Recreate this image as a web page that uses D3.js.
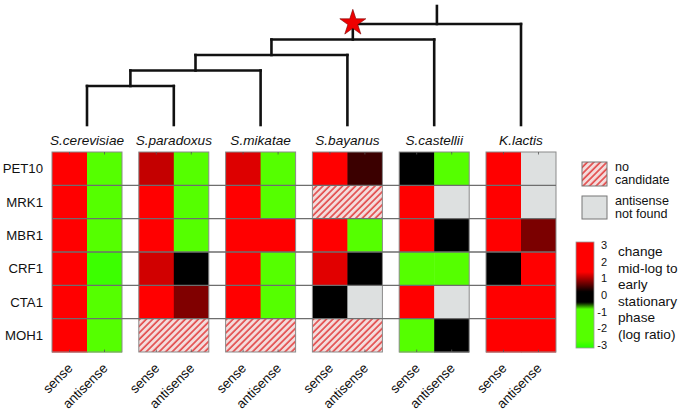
<!DOCTYPE html>
<html>
<head>
<meta charset="utf-8">
<script src="https://cdn.jsdelivr.net/npm/d3@7"></script>
<style>
  html, body { margin: 0; padding: 0; background: #fff; }
  svg { display: block; font-family: "Liberation Sans", Arial, Helvetica, sans-serif; }
</style>
</head>
<body>
<svg id="chart" width="685" height="416"></svg>
<script>
// ---------------- data ----------------
const species = ["S.cerevisiae", "S.paradoxus", "S.mikatae", "S.bayanus", "S.castellii", "K.lactis"];
const genes = ["PET10", "MRK1", "MBR1", "CRF1", "CTA1", "MOH1"];
const strands = ["sense", "antisense"];
// log ratio values; null = no candidate, "nf" = antisense not found
// one row per species, one entry per gene (PET10..MOH1)
const senseValues = [
  [2.5, 2.5, 2.5, 2.5, 2.5, 2.5],
  [1.04, 2.5, 2.5, 1.1, 2.5, null],
  [1.15, 2.5, 2.5, 2.5, 2.5, null],
  [2.5, null, 2.5, 1.17, 0, null],
  [0, 2.5, 2.5, -1.8, 2.5, -1.8],
  [2.5, 2.5, 2.5, 0, 2.5, 2.5]
];
const antisenseValues = [
  [-1.8, -1.8, -1.8, -2.8, -1.8, -1.8],
  [-1.8, -1.8, -1.8, 0, 0.74, null],
  [-1.8, -1.8, 2.5, -1.8, -1.8, null],
  [0.44, null, -1.8, 0, "nf", null],
  [-1.8, "nf", 0, -1.8, "nf", 0],
  ["nf", "nf", 0.72, 2.5, 2.5, 2.5]
];
// phylogeny: (((((cer,par),mik),bay),cas),lac)
const phylogeny = [[[[["S.cerevisiae", "S.paradoxus"], "S.mikatae"], "S.bayanus"], "S.castellii"], "K.lactis"];
const colorTicks = [3, 2, 1, 0, -1, -2, -3];
const legendText = ["change", "mid-log to", "early", "stationary", "phase", "(log ratio)"];

// ---------------- setup ----------------
const svg = d3.select("#chart");
const defs = svg.append("defs");

const xSpecies = d3.scaleBand().domain(species).range([52, 556]).paddingInner(0.1935).paddingOuter(0);
const xStrand = d3.scaleBand().domain(strands).range([0, xSpecies.bandwidth()]);
const yGene = d3.scaleBand().domain(genes).range([152, 352]);

const colorScale = d3.scaleLinear()
  .domain([-3, -2.6, -0.8, -0.42, 0.18, 1.3, 3])
  .range(["#22ff00", "#55ff00", "#55ff00", "#000000", "#000000", "#ff0000", "#ff0000"])
  .clamp(true);

// hatch pattern
const pat = defs.append("pattern")
  .attr("id", "hatch").attr("patternUnits", "userSpaceOnUse")
  .attr("width", 4.6).attr("height", 4.6)
  .attr("patternTransform", "rotate(45)");
pat.append("rect").attr("width", 4.6).attr("height", 4.6).attr("fill", "#f3dcdc");
pat.append("line").attr("x1", 1).attr("x2", 1).attr("y1", 0).attr("y2", 4.6)
  .attr("stroke", "#e23a3a").attr("stroke-width", 1.5);

const NA_GRAY = "#dde0e0";

// ---------------- heatmap ----------------
const blocks = svg.append("g").selectAll("g.block")
  .data(species).join("g").attr("class", "block")
  .attr("transform", d => `translate(${xSpecies(d)},0)`);

blocks.each(function(sp, si) {
  const g = d3.select(this);
  genes.forEach((gene, gi) => {
    const sv = senseValues[si][gi];
    const av = antisenseValues[si][gi];
    if (sv === null) {
      g.append("rect")
        .attr("x", 0).attr("y", yGene(gene))
        .attr("width", xSpecies.bandwidth()).attr("height", yGene.bandwidth())
        .attr("fill", "url(#hatch)");
      return;
    }
    [sv, av].forEach((v, k) => {
      g.append("rect")
        .attr("x", xStrand(strands[k])).attr("y", yGene(gene))
        .attr("width", xStrand.bandwidth() + (k === 0 ? 0.5 : 0)).attr("height", yGene.bandwidth() + 0.5)
        .attr("fill", v === "nf" ? NA_GRAY : colorScale(v));
    });
  });
});

// horizontal row separators
svg.append("g").selectAll("line")
  .data(genes.slice(1)).join("line")
  .attr("x1", xSpecies.range()[0]).attr("x2", xSpecies.range()[1])
  .attr("y1", d => yGene(d)).attr("y2", d => yGene(d))
  .attr("stroke", "#6e6e6e").attr("stroke-width", 1.4);

// block outlines & small ticks
blocks.append("rect")
  .attr("x", 0).attr("y", yGene.range()[0])
  .attr("width", xSpecies.bandwidth()).attr("height", yGene.range()[1] - yGene.range()[0])
  .attr("fill", "none").attr("stroke", "#8a8a8a").attr("stroke-width", 1);
blocks.each(function() {
  const g = d3.select(this);
  strands.forEach(s => {
    const cx = xStrand(s) + xStrand.bandwidth() / 2;
    g.append("line").attr("x1", cx).attr("x2", cx)
      .attr("y1", yGene.range()[0]).attr("y2", yGene.range()[0] + 2.5)
      .attr("stroke", "#555").attr("stroke-width", 0.8);
    g.append("line").attr("x1", cx).attr("x2", cx)
      .attr("y1", yGene.range()[1]).attr("y2", yGene.range()[1] - 2.5)
      .attr("stroke", "#555").attr("stroke-width", 0.8);
  });
});

// row labels
svg.append("g").selectAll("text")
  .data(genes).join("text")
  .attr("x", 43).attr("y", d => yGene(d) + yGene.bandwidth() / 2)
  .attr("text-anchor", "end").attr("dominant-baseline", "central")
  .attr("font-size", 13.2).attr("fill", "#111")
  .text(d => d);

// species labels
svg.append("g").selectAll("text")
  .data(species).join("text")
  .attr("x", d => xSpecies(d) + xSpecies.bandwidth() / 2).attr("y", 145)
  .attr("text-anchor", "middle").attr("font-style", "italic")
  .attr("font-size", 13.6).attr("fill", "#111")
  .text(d => d);

// bottom strand labels
const bottom = [];
species.forEach(sp => strands.forEach(s => bottom.push({ sp, s })));
svg.append("g").selectAll("text")
  .data(bottom).join("text")
  .attr("transform", d => {
    const x = xSpecies(d.sp) + xStrand(d.s) + xStrand.bandwidth() / 2 + 4;
    return `translate(${x},369) rotate(-45)`;
  })
  .attr("text-anchor", "end").attr("font-size", 13.3).attr("fill", "#111")
  .text(d => d.s);

// ---------------- tree ----------------
const toNode = d => Array.isArray(d) ? { children: d.map(toNode) } : { name: d };
const root = d3.hierarchy(toNode(phylogeny));
root.eachAfter(n => {
  n.tx = n.children ? d3.mean(n.children, c => c.tx) : xSpecies(n.data.name) + xSpecies.bandwidth() / 2;
});
const yTree = d3.scaleLinear().domain([1, 5]).range([86, 24]);
const leafY = 125, rootTop = 6;
const ny = n => n.children ? yTree(n.height) : leafY;

const tg = svg.append("g").attr("stroke", "#111").attr("stroke-width", 2.6).attr("fill", "none");
root.descendants().forEach(n => {
  const y0 = ny(n);
  const y1 = n.parent ? ny(n.parent) : rootTop;
  tg.append("line").attr("x1", n.tx).attr("x2", n.tx).attr("y1", y0).attr("y2", y1)
    .attr("stroke-linecap", "square");
  if (n.children) {
    const xs = n.children.map(c => c.tx);
    tg.append("line").attr("x1", d3.min(xs)).attr("x2", d3.max(xs)).attr("y1", y0).attr("y2", y0)
      .attr("stroke-linecap", "square");
  }
});
// star on the branch leading to the node with height 4
const starNode = root.descendants().find(n => n.height === 4);
svg.append("path")
  .attr("d", d3.symbol().type(d3.symbolStar).size(210)())
  .attr("transform", `translate(${starNode.tx},${ny(starNode.parent) - 1})`)
  .attr("fill", "#ee0000").attr("stroke", "#7a0000").attr("stroke-width", 0.6);

// ---------------- legends ----------------
const lg = svg.append("g");
lg.append("rect").attr("x", 582).attr("y", 162).attr("width", 25).attr("height", 24)
  .attr("fill", "url(#hatch)").attr("stroke", "#777").attr("stroke-width", 1);
lg.append("text").attr("x", 615).attr("y", 171).attr("font-size", 12.6).attr("fill", "#111").text("no");
lg.append("text").attr("x", 615).attr("y", 184).attr("font-size", 12.6).attr("fill", "#111").text("candidate");
lg.append("rect").attr("x", 582).attr("y", 196).attr("width", 25).attr("height", 23)
  .attr("fill", NA_GRAY).attr("stroke", "#777").attr("stroke-width", 1);
lg.append("text").attr("x", 615).attr("y", 205).attr("font-size", 12.6).attr("fill", "#111").text("antisense");
lg.append("text").attr("x", 615).attr("y", 218).attr("font-size", 12.6).attr("fill", "#111").text("not found");

// colorbar
const cbY = d3.scaleLinear().domain([3, -3]).range([245, 345]);
const grad = defs.append("linearGradient").attr("id", "cbgrad")
  .attr("x1", 0).attr("x2", 0).attr("y1", 0).attr("y2", 1);
d3.range(0, 61).forEach(i => {
  const v = 3 - i * 0.1;
  grad.append("stop").attr("offset", `${(i / 60) * 100}%`).attr("stop-color", colorScale(v));
});
lg.append("rect").attr("x", 576).attr("y", 242).attr("width", 18).attr("height", 106)
  .attr("fill", "url(#cbgrad)").attr("stroke", "#999").attr("stroke-width", 0.8);
lg.append("g").selectAll("text").data(colorTicks).join("text")
  .attr("x", 607).attr("y", d => cbY(d)).attr("text-anchor", "end")
  .attr("dominant-baseline", "central").attr("font-size", 11).attr("fill", "#111")
  .text(d => d);
lg.append("g").selectAll("text").data(legendText).join("text")
  .attr("x", 618).attr("y", (d, i) => 256 + i * 16.5)
  .attr("font-size", 13.6).attr("fill", "#111")
  .text(d => d);
</script>
</body>
</html>
